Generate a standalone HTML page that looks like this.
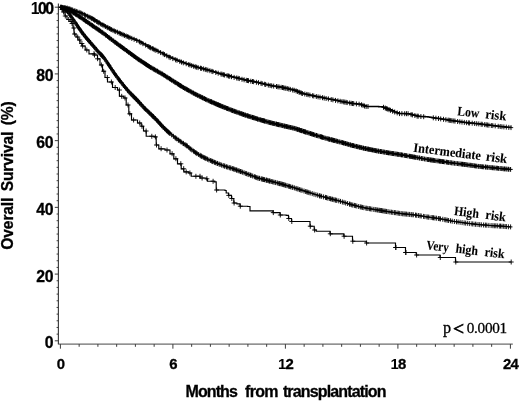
<!DOCTYPE html>
<html><head><meta charset="utf-8"><title>Overall survival</title>
<style>
html,body{margin:0;padding:0;background:#fff;}
body{width:520px;height:402px;overflow:hidden;}
svg{display:block;}
.sans{font-family:"Liberation Sans",Arial,Helvetica,sans-serif;font-weight:bold;fill:#000;stroke:#000;stroke-width:0.3px;}
.serif{font-family:"Liberation Serif","Times New Roman",serif;fill:#000;}
</style></head>
<body>
<svg width="520" height="402" viewBox="0 0 520 402">
<defs><filter id="soft" x="0" y="0" width="520" height="402" filterUnits="userSpaceOnUse"><feGaussianBlur stdDeviation="0.45"/></filter></defs>
<rect width="520" height="402" fill="#fff"/>
<g filter="url(#soft)">
<g fill="none" stroke="#3c3c3c" stroke-width="1.2">
<path d="M58.4 3.6V344.1" stroke-width="1.15"/><path d="M57.9 344.1H512.8" stroke-width="0.95"/>
<path d="M54.8 340.80H58.4M56.6 334.13H58.4M56.6 327.46H58.4M56.6 320.78H58.4M56.6 314.11H58.4M56.6 307.44H58.4M56.6 300.77H58.4M56.6 294.10H58.4M56.6 287.42H58.4M56.6 280.75H58.4M54.8 274.08H58.4M56.6 267.41H58.4M56.6 260.74H58.4M56.6 254.06H58.4M56.6 247.39H58.4M56.6 240.72H58.4M56.6 234.05H58.4M56.6 227.38H58.4M56.6 220.70H58.4M56.6 214.03H58.4M54.8 207.36H58.4M56.6 200.69H58.4M56.6 194.02H58.4M56.6 187.34H58.4M56.6 180.67H58.4M56.6 174.00H58.4M56.6 167.33H58.4M56.6 160.66H58.4M56.6 153.98H58.4M56.6 147.31H58.4M54.8 140.64H58.4M56.6 133.97H58.4M56.6 127.30H58.4M56.6 120.62H58.4M56.6 113.95H58.4M56.6 107.28H58.4M56.6 100.61H58.4M56.6 93.94H58.4M56.6 87.26H58.4M56.6 80.59H58.4M54.8 73.92H58.4M56.6 67.25H58.4M56.6 60.58H58.4M56.6 53.90H58.4M56.6 47.23H58.4M56.6 40.56H58.4M56.6 33.89H58.4M56.6 27.22H58.4M56.6 20.54H58.4M56.6 13.87H58.4M54.8 7.20H58.4M60.40 344.1V348.7M79.15 344.1V346.8M97.90 344.1V346.8M116.65 344.1V346.8M135.40 344.1V346.8M154.15 344.1V346.8M172.90 344.1V348.7M191.65 344.1V346.8M210.40 344.1V346.8M229.15 344.1V346.8M247.90 344.1V346.8M266.65 344.1V346.8M285.40 344.1V348.7M304.15 344.1V346.8M322.90 344.1V346.8M341.65 344.1V346.8M360.40 344.1V346.8M379.15 344.1V346.8M397.90 344.1V348.7M416.65 344.1V346.8M435.40 344.1V346.8M454.15 344.1V346.8M472.90 344.1V346.8M491.65 344.1V346.8M510.40 344.1V348.7" stroke-width="1"/>
</g>
<g fill="none" stroke="#000" stroke-width="1" id="curves">
<path d="M60.4 7.2H62.1V7.4H63.6V7.6H65.8V7.9H67.1V8.1H69.2V8.7H71.0V9.4H72.3V9.9H74.3V10.7H75.5V11.2H77.4V11.8H78.7V12.3H80.1V12.7H82.0V13.6H84.5V14.8H85.9V15.5H87.4V16.3H89.6V17.4H92.4V18.7H94.5V20.1H96.3V21.2H99.1V23.0H100.3V23.8H102.9V25.1H104.6V26.0H106.0V26.7H107.4V27.5H109.1V28.4H111.6V29.7H113.1V30.4H115.2V31.3H117.4V32.3H119.2V33.1H121.3V34.0H122.6V34.6H123.9V35.1H125.4V35.8H127.7V36.7H129.6V37.5H131.3V38.2H133.5V39.1H135.4V39.9H137.1V40.6H139.5V41.8H141.8V43.1H143.4V44.0H145.6V45.1H147.6V46.2H150.2V47.6H152.6V48.7H154.2V49.5H157.0V50.9H158.4V51.5H160.3V52.4H162.7V53.6H164.1V54.4H166.1V55.4H167.4V56.1H169.6V57.3H172.0V58.3H174.2V59.2H176.8V60.2H178.5V60.9H180.8V61.8H182.9V62.6H185.1V63.4H187.0V64.0H189.5V64.9H192.2V65.8H194.2V66.5H196.5V67.1H197.8V67.5H200.1V68.1H202.3V68.7H205.1V69.4H207.6V70.0H209.3V70.5H211.1V71.1H213.4V71.8H214.6V72.1H216.5V72.7H218.0V73.2H219.4V73.6H220.7V73.9H223.1V74.6H224.5V74.9H226.1V75.3H227.9V75.8H230.5V76.5H231.9V76.8H233.8V77.3H235.9V77.8H238.5V78.4H241.0V79.0H243.6V79.7H245.2V80.0H247.1V80.4H248.9V80.8H251.5V81.3H254.2V81.8H255.6V82.1H257.1V82.4H258.7V82.8H260.3V83.2H262.2V83.6H264.4V84.2H266.0V84.5H267.2V84.8H269.1V85.3H270.9V85.6H273.0V86.0H275.7V86.4H278.0V86.8H280.0V87.1H282.2V87.5H284.5V88.0H285.8V88.3H288.4V88.9H290.9V89.5H293.5V90.1H296.0V90.9H297.8V91.6H299.6V92.4H301.0V92.9H303.2V93.7H304.5V93.9H305.8V94.2H307.3V94.6H308.8V94.9H310.6V95.3H311.8V95.6H313.0V95.8H314.5V96.1H315.8V96.4H317.6V96.8H318.9V97.0H321.5V97.5H323.6V98.0H325.1V98.3H326.7V98.6H328.4V98.9H330.2V99.3H331.6V99.6H334.2V100.1H337.0V100.6H338.9V101.0H340.9V101.4H342.2V101.7H343.6V101.9H345.3V102.2H347.0V102.5H349.5V103.0H350.9V103.2H352.2V103.4H354.9V103.8H356.9V104.0H358.4V104.1H360.5V104.5H361.7V104.9H363.7V105.7H366.5V106.5H369.1V106.5H371.4V106.6H373.0V106.6H374.8V106.6H376.3V106.6H378.7V106.7H380.8V106.7H383.2V107.2H384.9V108.0H386.5V108.6H389.0V109.7H391.8V110.8H394.3V111.9H396.8V112.8H399.3V113.6H401.7V113.6H403.3V113.6H405.3V113.7H407.1V113.7H408.3V113.8H409.6V114.1H411.2V114.6H412.8V115.0H415.1V115.6H417.9V116.2H419.8V116.4H422.5V116.6H425.3V116.8H428.0V117.1H429.8V117.3H431.3V117.5H432.9V117.8H434.4V118.0H435.9V118.2H438.1V118.5H440.8V118.9H443.3V119.3H445.3V119.6H447.5V120.0H450.0V120.4H451.3V120.6H453.6V120.9H456.3V121.3H458.7V121.6H461.1V122.0H463.1V122.2H464.6V122.4H467.0V122.7H468.7V122.9H471.2V123.1H474.0V123.4H475.8V123.6H477.7V123.8H480.4V124.1H482.7V124.4H484.2V124.6H485.6V124.8H487.1V124.9H489.7V125.3H492.2V125.6H493.6V125.7H496.1V126.0H498.9V126.4H501.2V126.6H502.9V126.8H505.0V127.0H506.4V127.2H507.6V127.3H510.4V127.5H511.2V127.6" stroke-width="1.5"/>
<path d="M60.9 4.8v5.0M58.7 7.3h4.4M62.2 4.9v5.0M60.0 7.4h4.4M64.1 5.2v5.0M61.9 7.7h4.4M65.3 5.3v5.0M63.1 7.8h4.4M67.1 5.5v5.0M64.9 8.0h4.4M68.8 6.1v5.0M66.6 8.6h4.4M69.7 6.5v5.0M67.5 9.0h4.4M70.7 6.8v5.0M68.5 9.3h4.4M71.8 7.2v5.0M69.6 9.7h4.4M72.7 7.6v5.0M70.5 10.1h4.4M74.1 8.2v5.0M71.9 10.7h4.4M75.1 8.5v5.0M72.9 11.0h4.4M76.3 8.9v5.0M74.1 11.4h4.4M77.1 9.2v5.0M74.9 11.7h4.4M79.0 9.8v5.0M76.8 12.3h4.4M80.1 10.2v5.0M77.9 12.7h4.4M81.3 10.8v5.0M79.1 13.3h4.4M82.7 11.5v5.0M80.5 14.0h4.4M84.6 12.4v5.0M82.4 14.9h4.4M85.7 13.0v5.0M83.5 15.5h4.4M87.6 13.8v5.0M85.4 16.3h4.4M88.9 14.5v5.0M86.7 17.0h4.4M90.2 15.2v5.0M88.0 17.7h4.4M91.6 15.8v5.0M89.4 18.3h4.4M92.2 16.2v5.0M90.0 18.7h4.4M93.5 16.9v5.0M91.3 19.4h4.4M94.4 17.5v5.0M92.2 20.0h4.4M95.0 17.9v5.0M92.8 20.4h4.4M96.7 19.0v5.0M94.5 21.5h4.4M97.6 19.5v5.0M95.4 22.0h4.4M98.8 20.4v5.0M96.6 22.9h4.4M100.4 21.3v5.0M98.2 23.8h4.4M101.8 22.0v5.0M99.6 24.5h4.4M102.9 22.6v5.0M100.7 25.1h4.4M104.2 23.3v5.0M102.0 25.8h4.4M105.6 24.0v5.0M103.4 26.5h4.4M107.2 24.9v5.0M105.0 27.4h4.4M108.0 25.3v5.0M105.8 27.8h4.4M109.4 26.0v5.0M107.2 28.5h4.4M110.4 26.6v5.0M108.2 29.1h4.4M111.4 27.1v5.0M109.2 29.6h4.4M113.0 27.9v5.0M110.8 30.4h4.4M114.4 28.5v5.0M112.2 31.0h4.4M115.7 29.1v5.0M113.5 31.6h4.4M117.4 29.7v5.0M115.2 32.2h4.4M119.2 30.6v5.0M117.0 33.1h4.4M120.4 31.1v5.0M118.2 33.6h4.4M121.9 31.7v5.0M119.7 34.2h4.4M123.2 32.3v5.0M121.0 34.8h4.4M124.5 32.9v5.0M122.3 35.4h4.4M126.1 33.5v5.0M123.9 36.0h4.4M127.3 34.0v5.0M125.1 36.5h4.4M128.6 34.6v5.0M126.4 37.1h4.4M129.9 35.1v5.0M127.7 37.6h4.4M131.8 35.9v5.0M129.6 38.4h4.4M134.1 36.8v5.0M131.9 39.3h4.4M136.7 37.9v5.0M134.5 40.4h4.4M139.4 39.3v5.0M137.2 41.8h4.4M140.9 40.1v5.0M138.7 42.6h4.4M142.9 41.2v5.0M140.7 43.7h4.4M145.6 42.6v5.0M143.4 45.1h4.4M148.2 44.0v5.0M146.0 46.5h4.4M149.4 44.7v5.0M147.2 47.2h4.4M150.6 45.3v5.0M148.4 47.8h4.4M152.3 46.1v5.0M150.1 48.6h4.4M153.4 46.6v5.0M151.2 49.1h4.4M154.8 47.3v5.0M152.6 49.8h4.4M155.9 47.8v5.0M153.7 50.3h4.4M158.1 48.9v5.0M155.9 51.4h4.4M160.6 50.1v5.0M158.4 52.6h4.4M163.2 51.4v5.0M161.0 53.9h4.4M164.5 52.1v5.0M162.3 54.6h4.4M166.8 53.3v5.0M164.6 55.8h4.4M169.0 54.5v5.0M166.8 57.0h4.4M170.2 55.1v5.0M168.0 57.6h4.4M172.8 56.1v5.0M170.6 58.6h4.4M175.6 57.3v5.0M173.4 59.8h4.4M177.0 57.8v5.0M174.8 60.3h4.4M179.8 58.9v5.0M177.6 61.4h4.4M181.5 59.6v5.0M179.3 62.1h4.4M183.3 60.3v5.0M181.1 62.8h4.4M186.2 61.2v5.0M184.0 63.7h4.4M188.7 62.1v5.0M186.5 64.6h4.4M190.0 62.5v5.0M187.8 65.0h4.4M191.7 63.1v5.0M189.5 65.6h4.4M193.7 63.8v5.0M191.5 66.3h4.4M195.3 64.3v5.0M193.1 66.8h4.4M196.6 64.7v5.0M194.4 67.2h4.4M198.1 65.1v5.0M195.9 67.6h4.4M200.5 65.7v5.0M198.3 68.2h4.4M201.4 65.9v5.0M199.2 68.4h4.4M203.4 66.4v5.0M201.2 68.9h4.4M205.2 66.9v5.0M203.0 69.4h4.4M206.2 67.2v5.0M204.0 69.7h4.4M207.8 67.6v5.0M205.6 70.1h4.4M209.9 68.2v5.0M207.7 70.7h4.4M211.9 68.8v5.0M209.7 71.3h4.4M212.9 69.1v5.0M210.7 71.6h4.4M215.8 70.0v5.0M213.6 72.5h4.4M218.2 70.7v5.0M216.0 73.2h4.4M221.0 71.5v5.0M218.8 74.0h4.4M222.1 71.8v5.0M219.9 74.3h4.4M223.6 72.2v5.0M221.4 74.7h4.4M224.6 72.5v5.0M222.4 75.0h4.4M227.1 73.1v5.0M224.9 75.6h4.4M228.5 73.5v5.0M226.3 76.0h4.4M229.7 73.8v5.0M227.5 76.3h4.4M231.5 74.2v5.0M229.3 76.7h4.4M234.1 74.9v5.0M231.9 77.4h4.4M236.7 75.5v5.0M234.5 78.0h4.4M238.1 75.8v5.0M235.9 78.3h4.4M239.3 76.1v5.0M237.1 78.6h4.4M242.0 76.8v5.0M239.8 79.3h4.4M244.1 77.3v5.0M241.9 79.8h4.4M246.3 77.8v5.0M244.1 80.3h4.4M247.5 78.0v5.0M245.3 80.5h4.4M248.5 78.2v5.0M246.3 80.7h4.4M250.8 78.7v5.0M248.6 81.2h4.4M252.5 79.0v5.0M250.3 81.5h4.4M253.6 79.2v5.0M251.4 81.7h4.4M256.4 79.8v5.0M254.2 82.3h4.4M258.5 80.2v5.0M256.3 82.7h4.4M261.0 80.8v5.0M258.8 83.3h4.4M262.1 81.1v5.0M259.9 83.6h4.4M264.7 81.7v5.0M262.5 84.2h4.4M265.7 82.0v5.0M263.5 84.5h4.4M268.3 82.6v5.0M266.1 85.1h4.4M270.1 83.0v5.0M267.9 85.5h4.4M271.7 83.3v5.0M269.5 85.8h4.4M273.7 83.6v5.0M271.5 86.1h4.4M276.5 84.0v5.0M274.3 86.5h4.4M277.9 84.3v5.0M275.7 86.8h4.4M279.1 84.5v5.0M276.9 87.0h4.4M281.1 84.8v5.0M278.9 87.3h4.4M282.5 85.0v5.0M280.3 87.5h4.4M283.6 85.3v5.0M281.4 87.8h4.4M284.9 85.6v5.0M282.7 88.1h4.4M285.9 85.8v5.0M283.7 88.3h4.4M287.3 86.1v5.0M285.1 88.6h4.4M288.8 86.5v5.0M286.6 89.0h4.4M290.3 86.9v5.0M288.1 89.4h4.4M292.7 87.5v5.0M290.5 90.0h4.4M294.2 87.8v5.0M292.0 90.3h4.4M296.1 88.4v5.0M293.9 90.9h4.4M297.4 89.0v5.0M295.2 91.5h4.4M299.0 89.6v5.0M296.8 92.1h4.4M300.0 90.0v5.0M297.8 92.5h4.4M301.4 90.6v5.0M299.2 93.1h4.4M302.4 91.0v5.0M300.2 93.5h4.4M304.8 91.5v5.0M302.6 94.0h4.4M306.8 91.9v5.0M304.6 94.4h4.4M308.1 92.2v5.0M305.9 94.7h4.4M309.9 92.6v5.0M307.7 95.1h4.4M312.6 93.2v5.0M310.4 95.7h4.4M313.8 93.5v5.0M311.6 96.0h4.4M316.3 94.0v5.0M314.1 96.5h4.4M318.1 94.4v5.0M315.9 96.9h4.4M320.0 94.7v5.0M317.8 97.2h4.4M322.5 95.2v5.0M320.3 97.7h4.4M324.2 95.6v5.0M322.0 98.1h4.4M326.1 96.0v5.0M323.9 98.5h4.4M328.4 96.4v5.0M326.2 98.9h4.4M331.2 97.0v5.0M329.0 99.5h4.4M332.9 97.3v5.0M330.7 99.8h4.4M335.5 97.9v5.0M333.3 100.4h4.4M337.9 98.3v5.0M335.7 100.8h4.4M340.2 98.8v5.0M338.0 101.3h4.4M342.0 99.1v5.0M339.8 101.6h4.4M343.7 99.4v5.0M341.5 101.9h4.4M344.8 99.6v5.0M342.6 102.1h4.4M346.1 99.8v5.0M343.9 102.3h4.4M347.2 100.1v5.0M345.0 102.6h4.4M349.7 100.5v5.0M347.5 103.0h4.4M351.2 100.8v5.0M349.0 103.3h4.4M352.5 101.0v5.0M350.3 103.5h4.4M353.7 101.1v5.0M351.5 103.6h4.4M356.4 101.4v5.0M354.2 103.9h4.4M359.1 101.7v5.0M356.9 104.2h4.4M361.5 102.3v5.0M359.3 104.8h4.4M363.0 102.9v5.0M360.8 105.4h4.4M364.5 103.5v5.0M362.3 106.0h4.4M366.1 104.0v5.0M363.9 106.5h4.4M368.0 104.0v5.0M365.8 106.5h4.4M383.5 104.8v5.0M381.3 107.3h4.4M385.3 105.6v5.0M383.1 108.1h4.4M386.4 106.1v5.0M384.2 108.6h4.4M387.4 106.5v5.0M385.2 109.0h4.4M389.0 107.2v5.0M386.8 109.7h4.4M390.5 107.8v5.0M388.3 110.3h4.4M392.6 108.7v5.0M390.4 111.2h4.4M394.7 109.5v5.0M392.5 112.0h4.4M397.2 110.4v5.0M395.0 112.9h4.4M399.5 111.1v5.0M397.3 113.6h4.4M401.9 111.1v5.0M399.7 113.6h4.4M404.7 111.2v5.0M402.5 113.7h4.4M406.5 111.2v5.0M404.3 113.7h4.4M408.1 111.2v5.0M405.9 113.7h4.4M411.1 112.1v5.0M408.9 114.6h4.4M412.4 112.4v5.0M410.2 114.9h4.4M414.9 113.0v5.0M412.7 115.5h4.4M417.1 113.6v5.0M414.9 116.1h4.4M418.2 113.7v5.0M416.0 116.2h4.4M420.9 114.0v5.0M418.7 116.5h4.4M423.7 114.2v5.0M421.5 116.7h4.4M433.3 115.3v5.0M431.1 117.8h4.4M435.9 115.7v5.0M433.7 118.2h4.4M438.5 116.0v5.0M436.3 118.5h4.4M440.7 116.4v5.0M438.5 118.9h4.4M443.5 116.8v5.0M441.3 119.3h4.4M445.9 117.2v5.0M443.7 119.7h4.4M448.2 117.6v5.0M446.0 120.1h4.4M449.7 117.8v5.0M447.5 120.3h4.4M450.8 118.0v5.0M448.6 120.5h4.4M452.0 118.2v5.0M449.8 120.7h4.4M453.8 118.4v5.0M451.6 120.9h4.4M455.0 118.6v5.0M452.8 121.1h4.4M457.6 119.0v5.0M455.4 121.5h4.4M459.8 119.3v5.0M457.6 121.8h4.4M462.0 119.6v5.0M459.8 122.1h4.4M464.3 119.9v5.0M462.1 122.4h4.4M466.6 120.2v5.0M464.4 122.7h4.4M468.6 120.4v5.0M466.4 122.9h4.4M469.6 120.5v5.0M467.4 123.0h4.4M472.2 120.7v5.0M470.0 123.2h4.4M474.7 121.0v5.0M472.5 123.5h4.4M476.7 121.2v5.0M474.5 123.7h4.4M478.8 121.4v5.0M476.6 123.9h4.4M481.1 121.7v5.0M478.9 124.2h4.4M482.2 121.8v5.0M480.0 124.3h4.4M484.7 122.1v5.0M482.5 124.6h4.4M486.2 122.3v5.0M484.0 124.8h4.4M487.4 122.5v5.0M485.2 125.0h4.4M488.9 122.7v5.0M486.7 125.2h4.4M491.3 123.0v5.0M489.1 125.5h4.4M492.8 123.1v5.0M490.6 125.6h4.4M495.2 123.4v5.0M493.0 125.9h4.4M498.2 123.8v5.0M496.0 126.3h4.4M500.2 124.0v5.0M498.0 126.5h4.4M501.9 124.2v5.0M499.7 126.7h4.4M503.9 124.4v5.0M501.7 126.9h4.4M506.3 124.6v5.0M504.1 127.1h4.4M508.8 124.9v5.0M506.6 127.4h4.4M511.0 125.1v5.0M508.8 127.6h4.4" stroke-width="0.9"/>
<path d="M60.4 7.2H61.2V7.4H62.1V7.6H63.0V7.8H64.5V8.2H65.5V8.4H66.7V8.7H67.5V8.9H68.2V9.4H69.2V10.0H70.6V10.9H72.0V11.8H73.3V12.7H74.3V13.4H75.6V14.2H76.7V14.9H77.9V15.6H78.7V16.2H80.3V17.2H81.2V17.8H82.9V19.0H84.5V20.1H85.2V20.6H86.4V21.4H87.9V22.5H89.5V23.6H90.7V24.4H91.7V25.1H92.6V25.8H94.2V26.9H95.1V27.5H96.4V28.4H97.3V28.9H98.5V29.8H100.1V30.9H101.0V31.5H102.5V32.6H103.7V33.5H105.3V34.7H106.7V35.8H107.6V36.5H109.2V37.7H110.4V38.6H111.1V39.1H111.8V39.7H113.0V40.6H114.2V41.5H115.2V42.2H116.1V42.9H117.1V43.7H118.1V44.5H119.7V45.6H120.4V46.1H121.8V47.2H123.3V48.3H124.2V48.9H125.8V50.1H127.2V51.1H128.8V52.3H129.8V53.0H130.8V53.8H131.9V54.6H133.6V55.8H134.9V56.8H136.0V57.6H137.1V58.4H138.1V59.1H138.9V59.6H139.7V60.1H141.2V61.2H142.2V61.8H143.8V62.9H144.8V63.5H145.7V64.2H147.0V65.0H147.9V65.6H148.9V66.3H150.6V67.3H152.1V68.2H153.6V69.1H155.0V69.9H156.6V70.8H158.2V71.7H159.4V72.4H160.8V73.2H161.6V73.7H163.0V74.5H164.2V75.3H165.6V76.2H167.0V77.1H168.0V77.7H168.7V78.2H170.3V79.2H171.2V79.8H172.4V80.5H173.4V81.2H174.4V81.8H175.8V82.7H177.5V83.8H178.5V84.4H179.8V85.3H180.8V85.9H182.1V86.7H183.2V87.4H184.1V87.9H184.9V88.4H185.9V88.9H187.4V89.8H188.6V90.4H189.6V91.0H191.2V91.9H192.8V92.8H194.0V93.4H194.8V93.9H195.8V94.4H196.6V94.8H197.6V95.3H198.4V95.7H199.4V96.2H200.3V96.6H201.6V97.3H203.2V98.1H204.6V98.8H205.7V99.3H206.8V99.9H208.1V100.4H209.1V100.9H210.2V101.4H211.0V101.7H212.0V102.1H213.6V102.8H214.4V103.2H215.7V103.7H217.0V104.3H218.5V105.0H219.5V105.4H220.4V105.8H221.4V106.2H222.5V106.6H223.6V107.1H225.3V107.7H226.8V108.3H228.4V108.9H229.1V109.2H229.9V109.5H231.3V110.1H232.8V110.7H234.0V111.1H235.3V111.6H236.0V111.8H237.1V112.2H238.7V112.8H240.2V113.3H241.8V113.9H243.4V114.4H244.4V114.8H245.2V115.1H246.1V115.3H247.3V115.7H248.7V116.2H250.3V116.7H251.7V117.2H253.1V117.6H254.5V118.0H255.7V118.4H256.9V118.8H257.7V119.1H259.2V119.5H260.1V119.7H261.7V120.2H263.0V120.6H264.1V120.9H264.9V121.1H265.9V121.4H267.2V121.8H268.6V122.2H269.4V122.4H270.2V122.6H271.4V122.9H272.7V123.2H273.8V123.5H274.7V123.7H276.0V124.0H276.7V124.2H277.8V124.5H278.9V124.7H280.6V125.1H281.9V125.5H283.5V125.8H284.6V126.1H285.6V126.3H286.5V126.5H288.2V126.9H289.6V127.2H290.6V127.5H291.3V127.7H292.5V127.9H293.9V128.2H295.0V128.5H296.0V128.8H297.4V129.3H299.0V129.8H299.9V130.1H300.7V130.4H301.7V130.7H302.8V131.1H304.2V131.5H305.1V131.8H306.6V132.3H308.0V132.8H309.2V133.2H310.1V133.4H311.8V134.0H312.8V134.3H314.3V134.8H315.3V135.1H316.2V135.4H317.7V135.8H318.7V136.1H320.3V136.6H321.5V136.9H322.4V137.2H323.3V137.5H324.4V137.8H325.8V138.2H327.4V138.7H328.3V139.0H329.4V139.2H330.3V139.5H332.0V139.9H332.8V140.1H333.6V140.3H334.4V140.5H335.5V140.8H337.0V141.2H338.6V141.6H340.0V142.0H341.7V142.5H343.3V142.9H344.4V143.2H345.3V143.5H346.9V143.9H348.3V144.3H349.1V144.5H350.4V144.9H351.5V145.2H352.6V145.5H353.6V145.8H354.5V146.0H355.2V146.2H356.2V146.4H357.3V146.6H358.9V147.0H359.8V147.2H361.4V147.6H362.3V147.9H363.4V148.1H364.9V148.5H366.4V148.8H367.5V149.0H368.3V149.2H369.5V149.4H370.6V149.6H372.2V149.9H373.1V150.1H374.1V150.3H375.7V150.6H376.5V150.8H377.6V151.0H379.1V151.3H380.5V151.5H381.3V151.6H382.0V151.8H382.8V151.9H384.4V152.2H385.4V152.3H386.8V152.6H388.4V152.8H389.5V153.0H390.4V153.2H392.1V153.4H393.4V153.6H394.4V153.8H395.8V154.0H396.8V154.1H397.8V154.3H398.5V154.4H400.0V154.6H401.6V154.9H402.9V155.1H404.5V155.4H405.3V155.5H406.2V155.7H407.4V155.9H409.0V156.1H410.6V156.4H411.7V156.6H412.7V156.8H413.8V157.0H415.0V157.2H416.6V157.5H417.5V157.7H419.0V157.9H420.5V158.2H422.0V158.5H423.4V158.7H424.7V159.0H425.8V159.2H426.8V159.4H427.9V159.5H429.3V159.8H430.1V159.9H431.0V160.0H432.5V160.2H433.4V160.3H434.2V160.4H435.0V160.5H436.2V160.7H437.2V160.9H438.9V161.1H440.5V161.3H442.1V161.6H443.1V161.7H443.9V161.8H444.7V161.9H445.9V162.1H447.3V162.3H448.5V162.4H449.4V162.6H450.5V162.7H451.9V162.9H453.2V163.1H454.7V163.3H456.2V163.4H457.6V163.6H458.4V163.7H459.9V163.9H460.9V164.0H462.2V164.2H463.3V164.3H464.7V164.5H465.6V164.6H466.6V164.7H467.5V164.9H468.4V165.0H470.0V165.2H471.2V165.4H472.3V165.5H473.4V165.7H475.0V165.9H476.2V166.1H477.2V166.2H478.7V166.4H480.0V166.5H481.7V166.7H482.5V166.8H483.7V166.9H485.2V167.0H486.7V167.2H488.3V167.3H489.1V167.4H490.1V167.5H490.9V167.6H491.8V167.7H493.5V167.8H494.8V168.0H496.4V168.1H497.4V168.2H499.0V168.4H500.1V168.5H501.1V168.6H502.6V168.8H504.2V168.9H505.0V169.0H506.3V169.1H507.6V169.2H508.6V169.3H509.6V169.4H510.5V169.4H511.2V169.5"/>
<path d="M60.9 4.9v4.8M58.8 7.3h4.2M61.5 5.1v4.8M59.4 7.5h4.2M62.4 5.3v4.8M60.3 7.7h4.2M63.3 5.5v4.8M61.2 7.9h4.2M63.9 5.6v4.8M61.8 8.0h4.2M64.3 5.7v4.8M62.2 8.1h4.2M64.9 5.9v4.8M62.8 8.3h4.2M65.9 6.1v4.8M63.8 8.5h4.2M66.4 6.2v4.8M64.3 8.6h4.2M67.1 6.4v4.8M65.0 8.8h4.2M67.6 6.6v4.8M65.5 9.0h4.2M68.7 7.3v4.8M66.6 9.7h4.2M69.5 7.8v4.8M67.4 10.2h4.2M70.0 8.1v4.8M67.9 10.5h4.2M70.4 8.4v4.8M68.3 10.8h4.2M71.2 8.9v4.8M69.1 11.3h4.2M72.0 9.4v4.8M69.9 11.8h4.2M72.9 10.0v4.8M70.8 12.4h4.2M73.4 10.3v4.8M71.3 12.7h4.2M73.9 10.7v4.8M71.8 13.1h4.2M74.9 11.3v4.8M72.8 13.7h4.2M75.6 11.8v4.8M73.5 14.2h4.2M76.2 12.2v4.8M74.1 14.6h4.2M76.9 12.6v4.8M74.8 15.0h4.2M78.0 13.3v4.8M75.9 15.7h4.2M78.7 13.8v4.8M76.6 16.2h4.2M79.5 14.3v4.8M77.4 16.7h4.2M80.2 14.8v4.8M78.1 17.2h4.2M81.0 15.3v4.8M78.9 17.7h4.2M82.1 16.0v4.8M80.0 18.4h4.2M83.2 16.9v4.8M81.1 19.3h4.2M83.9 17.3v4.8M81.8 19.7h4.2M84.5 17.7v4.8M82.4 20.1h4.2M85.5 18.4v4.8M83.4 20.8h4.2M86.0 18.8v4.8M83.9 21.2h4.2M86.4 19.1v4.8M84.3 21.5h4.2M87.6 19.8v4.8M85.5 22.2h4.2M88.3 20.4v4.8M86.2 22.8h4.2M89.4 21.1v4.8M87.3 23.5h4.2M90.1 21.6v4.8M88.0 24.0h4.2M91.2 22.4v4.8M89.1 24.8h4.2M92.0 22.9v4.8M89.9 25.3h4.2M92.5 23.3v4.8M90.4 25.7h4.2M92.9 23.6v4.8M90.8 26.0h4.2M93.7 24.1v4.8M91.6 26.5h4.2M94.7 24.8v4.8M92.6 27.2h4.2M95.8 25.5v4.8M93.7 27.9h4.2M96.3 25.9v4.8M94.2 28.3h4.2M97.2 26.5v4.8M95.1 28.9h4.2M97.9 26.9v4.8M95.8 29.3h4.2M98.7 27.5v4.8M96.6 29.9h4.2M99.2 27.8v4.8M97.1 30.2h4.2M99.8 28.3v4.8M97.7 30.7h4.2M100.6 28.9v4.8M98.5 31.3h4.2M101.8 29.7v4.8M99.7 32.1h4.2M102.2 30.1v4.8M100.1 32.5h4.2M103.0 30.6v4.8M100.9 33.0h4.2M104.1 31.4v4.8M102.0 33.8h4.2M105.3 32.3v4.8M103.2 34.7h4.2M105.8 32.7v4.8M103.7 35.1h4.2M106.3 33.1v4.8M104.2 35.5h4.2M107.5 34.0v4.8M105.4 36.4h4.2M108.6 34.9v4.8M106.5 37.3h4.2M109.4 35.5v4.8M107.3 37.9h4.2M109.9 35.8v4.8M107.8 38.2h4.2M111.0 36.7v4.8M108.9 39.1h4.2M111.7 37.2v4.8M109.6 39.6h4.2M112.9 38.1v4.8M110.8 40.5h4.2M113.7 38.7v4.8M111.6 41.1h4.2M114.8 39.6v4.8M112.7 42.0h4.2M115.3 40.0v4.8M113.2 42.4h4.2M116.4 40.7v4.8M114.3 43.1h4.2M116.9 41.2v4.8M114.8 43.6h4.2M117.7 41.7v4.8M115.6 44.1h4.2M118.7 42.5v4.8M116.6 44.9h4.2M119.8 43.3v4.8M117.7 45.7h4.2M120.4 43.7v4.8M118.3 46.1h4.2M120.9 44.1v4.8M118.8 46.5h4.2M121.6 44.6v4.8M119.5 47.0h4.2M122.5 45.2v4.8M120.4 47.6h4.2M123.2 45.8v4.8M121.1 48.2h4.2M123.7 46.1v4.8M121.6 48.5h4.2M124.3 46.6v4.8M122.2 49.0h4.2M125.2 47.3v4.8M123.1 49.7h4.2M126.4 48.1v4.8M124.3 50.5h4.2M126.8 48.4v4.8M124.7 50.8h4.2M127.6 49.0v4.8M125.5 51.4h4.2M128.7 49.8v4.8M126.6 52.2h4.2M129.1 50.1v4.8M127.0 52.5h4.2M130.2 50.9v4.8M128.1 53.3h4.2M130.6 51.3v4.8M128.5 53.7h4.2M131.5 51.9v4.8M129.4 54.3h4.2M132.4 52.5v4.8M130.3 54.9h4.2M133.3 53.2v4.8M131.2 55.6h4.2M133.9 53.7v4.8M131.8 56.1h4.2M134.6 54.2v4.8M132.5 56.6h4.2M135.5 54.8v4.8M133.4 57.2h4.2M136.3 55.4v4.8M134.2 57.8h4.2M137.2 56.1v4.8M135.1 58.5h4.2M137.9 56.6v4.8M135.8 59.0h4.2M138.7 57.1v4.8M136.6 59.5h4.2M139.1 57.4v4.8M137.0 59.8h4.2M140.0 58.0v4.8M137.9 60.4h4.2M140.8 58.5v4.8M138.7 60.9h4.2M141.4 58.9v4.8M139.3 61.3h4.2M142.4 59.6v4.8M140.3 62.0h4.2M143.4 60.2v4.8M141.3 62.6h4.2M144.2 60.7v4.8M142.1 63.1h4.2M144.7 61.1v4.8M142.6 63.5h4.2M145.5 61.6v4.8M143.4 64.0h4.2M146.0 61.9v4.8M143.9 64.3h4.2M146.5 62.3v4.8M144.4 64.7h4.2M147.2 62.8v4.8M145.1 65.2h4.2M147.7 63.1v4.8M145.6 65.5h4.2M148.5 63.6v4.8M146.4 66.0h4.2M149.3 64.1v4.8M147.2 66.5h4.2M149.7 64.4v4.8M147.6 66.8h4.2M150.6 65.0v4.8M148.5 67.4h4.2M151.1 65.2v4.8M149.0 67.6h4.2M152.1 65.8v4.8M150.0 68.2h4.2M153.1 66.4v4.8M151.0 68.8h4.2M153.9 66.8v4.8M151.8 69.2h4.2M154.3 67.1v4.8M152.2 69.5h4.2M155.1 67.6v4.8M153.0 70.0h4.2M155.9 68.0v4.8M153.8 70.4h4.2M157.0 68.6v4.8M154.9 71.0h4.2M157.5 68.9v4.8M155.4 71.3h4.2M158.6 69.6v4.8M156.5 72.0h4.2M159.8 70.2v4.8M157.7 72.6h4.2M160.8 70.8v4.8M158.7 73.2h4.2M161.8 71.4v4.8M159.7 73.8h4.2M162.4 71.7v4.8M160.3 74.1h4.2M163.6 72.5v4.8M161.5 74.9h4.2M164.4 73.0v4.8M162.3 75.4h4.2M165.5 73.7v4.8M163.4 76.1h4.2M166.7 74.5v4.8M164.6 76.9h4.2M167.2 74.8v4.8M165.1 77.2h4.2M168.2 75.5v4.8M166.1 77.9h4.2M169.4 76.2v4.8M167.3 78.6h4.2M169.8 76.5v4.8M167.7 78.9h4.2M170.5 76.9v4.8M168.4 79.3h4.2M171.5 77.6v4.8M169.4 80.0h4.2M172.0 77.9v4.8M169.9 80.3h4.2M173.2 78.6v4.8M171.1 81.0h4.2M173.8 79.0v4.8M171.7 81.4h4.2M174.8 79.7v4.8M172.7 82.1h4.2M175.3 80.0v4.8M173.2 82.4h4.2M176.2 80.5v4.8M174.1 82.9h4.2M177.3 81.3v4.8M175.2 83.7h4.2M177.9 81.6v4.8M175.8 84.0h4.2M178.5 82.0v4.8M176.4 84.4h4.2M179.3 82.5v4.8M177.2 84.9h4.2M179.9 83.0v4.8M177.8 85.4h4.2M180.4 83.2v4.8M178.3 85.6h4.2M180.9 83.6v4.8M178.8 86.0h4.2M181.4 83.9v4.8M179.3 86.3h4.2M182.6 84.6v4.8M180.5 87.0h4.2M183.5 85.2v4.8M181.4 87.6h4.2M184.6 85.8v4.8M182.5 88.2h4.2M185.2 86.1v4.8M183.1 88.5h4.2M186.2 86.7v4.8M184.1 89.1h4.2M186.7 86.9v4.8M184.6 89.3h4.2M187.5 87.4v4.8M185.4 89.8h4.2M188.4 87.9v4.8M186.3 90.3h4.2M189.1 88.3v4.8M187.0 90.7h4.2M190.2 88.9v4.8M188.1 91.3h4.2M191.1 89.4v4.8M189.0 91.8h4.2M191.9 89.9v4.8M189.8 92.3h4.2M193.0 90.5v4.8M190.9 92.9h4.2M193.5 90.8v4.8M191.4 93.2h4.2M194.7 91.4v4.8M192.6 93.8h4.2M195.6 91.9v4.8M193.5 94.3h4.2M196.3 92.3v4.8M194.2 94.7h4.2M197.4 92.8v4.8M195.3 95.2h4.2M198.0 93.1v4.8M195.9 95.5h4.2M199.2 93.7v4.8M197.1 96.1h4.2M200.0 94.1v4.8M197.9 96.5h4.2M200.7 94.4v4.8M198.6 96.8h4.2M201.7 94.9v4.8M199.6 97.3h4.2M202.5 95.3v4.8M200.4 97.7h4.2M203.0 95.6v4.8M200.9 98.0h4.2M204.0 96.1v4.8M201.9 98.5h4.2M204.5 96.3v4.8M202.4 98.7h4.2M205.5 96.8v4.8M203.4 99.2h4.2M206.1 97.1v4.8M204.0 99.5h4.2M207.0 97.6v4.8M204.9 100.0h4.2M208.2 98.1v4.8M206.1 100.5h4.2M209.1 98.5v4.8M207.0 100.9h4.2M210.0 98.9v4.8M207.9 101.3h4.2M210.7 99.2v4.8M208.6 101.6h4.2M211.1 99.3v4.8M209.0 101.7h4.2M211.5 99.5v4.8M209.4 101.9h4.2M212.0 99.7v4.8M209.9 102.1h4.2M212.9 100.1v4.8M210.8 102.5h4.2M213.7 100.5v4.8M211.6 102.9h4.2M214.5 100.8v4.8M212.4 103.2h4.2M215.6 101.3v4.8M213.5 103.7h4.2M216.1 101.5v4.8M214.0 103.9h4.2M216.7 101.8v4.8M214.6 104.2h4.2M217.6 102.2v4.8M215.5 104.6h4.2M218.0 102.3v4.8M215.9 104.7h4.2M218.4 102.5v4.8M216.3 104.9h4.2M219.1 102.8v4.8M217.0 105.2h4.2M219.6 103.0v4.8M217.5 105.4h4.2M220.3 103.3v4.8M218.2 105.7h4.2M220.8 103.5v4.8M218.7 105.9h4.2M221.7 103.9v4.8M219.6 106.3h4.2M222.6 104.2v4.8M220.5 106.6h4.2M223.1 104.5v4.8M221.0 106.9h4.2M224.0 104.8v4.8M221.9 107.2h4.2M224.8 105.1v4.8M222.7 107.5h4.2M225.3 105.3v4.8M223.2 107.7h4.2M226.5 105.8v4.8M224.4 108.2h4.2M227.1 106.0v4.8M225.0 108.4h4.2M227.6 106.2v4.8M225.5 108.6h4.2M228.1 106.4v4.8M226.0 108.8h4.2M229.0 106.8v4.8M226.9 109.2h4.2M230.1 107.2v4.8M228.0 109.6h4.2M231.1 107.6v4.8M229.0 110.0h4.2M231.8 107.9v4.8M229.7 110.3h4.2M232.4 108.2v4.8M230.3 110.6h4.2M232.8 108.3v4.8M230.7 110.7h4.2M233.8 108.6v4.8M231.7 111.0h4.2M234.6 108.9v4.8M232.5 111.3h4.2M235.3 109.2v4.8M233.2 111.6h4.2M236.2 109.5v4.8M234.1 111.9h4.2M237.0 109.8v4.8M234.9 112.2h4.2M238.1 110.2v4.8M236.0 112.6h4.2M239.1 110.5v4.8M237.0 112.9h4.2M239.7 110.7v4.8M237.6 113.1h4.2M240.8 111.1v4.8M238.7 113.5h4.2M241.3 111.3v4.8M239.2 113.7h4.2M242.1 111.6v4.8M240.0 114.0h4.2M242.8 111.8v4.8M240.7 114.2h4.2M243.4 112.0v4.8M241.3 114.4h4.2M243.8 112.2v4.8M241.7 114.6h4.2M244.9 112.6v4.8M242.8 115.0h4.2M245.3 112.7v4.8M243.2 115.1h4.2M246.1 113.0v4.8M244.0 115.4h4.2M247.3 113.3v4.8M245.2 115.7h4.2M247.8 113.5v4.8M245.7 115.9h4.2M248.3 113.7v4.8M246.2 116.1h4.2M249.2 114.0v4.8M247.1 116.4h4.2M250.0 114.2v4.8M247.9 116.6h4.2M250.9 114.5v4.8M248.8 116.9h4.2M252.0 114.8v4.8M249.9 117.2h4.2M252.5 115.0v4.8M250.4 117.4h4.2M253.2 115.2v4.8M251.1 117.6h4.2M253.8 115.4v4.8M251.7 117.8h4.2M254.3 115.6v4.8M252.2 118.0h4.2M255.4 115.9v4.8M253.3 118.3h4.2M256.4 116.2v4.8M254.3 118.6h4.2M257.4 116.6v4.8M255.3 119.0h4.2M257.8 116.7v4.8M255.7 119.1h4.2M258.9 117.0v4.8M256.8 119.4h4.2M259.9 117.3v4.8M257.8 119.7h4.2M260.6 117.5v4.8M258.5 119.9h4.2M261.6 117.8v4.8M259.5 120.2h4.2M262.4 118.0v4.8M260.3 120.4h4.2M263.0 118.2v4.8M260.9 120.6h4.2M263.4 118.3v4.8M261.3 120.7h4.2M264.0 118.5v4.8M261.9 120.9h4.2M264.5 118.6v4.8M262.4 121.0h4.2M265.1 118.8v4.8M263.0 121.2h4.2M266.1 119.1v4.8M264.0 121.5h4.2M267.1 119.4v4.8M265.0 121.8h4.2M268.2 119.7v4.8M266.1 122.1h4.2M269.1 119.9v4.8M267.0 122.3h4.2M269.7 120.1v4.8M267.6 122.5h4.2M270.6 120.3v4.8M268.5 122.7h4.2M271.3 120.5v4.8M269.2 122.9h4.2M272.4 120.8v4.8M270.3 123.2h4.2M273.2 121.0v4.8M271.1 123.4h4.2M273.8 121.1v4.8M271.7 123.5h4.2M274.7 121.3v4.8M272.6 123.7h4.2M275.9 121.6v4.8M273.8 124.0h4.2M276.5 121.7v4.8M274.4 124.1h4.2M277.6 122.0v4.8M275.5 124.4h4.2M278.0 122.1v4.8M275.9 124.5h4.2M278.6 122.3v4.8M276.5 124.7h4.2M279.2 122.4v4.8M277.1 124.8h4.2M280.2 122.6v4.8M278.1 125.0h4.2M281.3 122.9v4.8M279.2 125.3h4.2M282.3 123.2v4.8M280.2 125.6h4.2M283.0 123.3v4.8M280.9 125.7h4.2M284.1 123.6v4.8M282.0 126.0h4.2M284.7 123.7v4.8M282.6 126.1h4.2M285.3 123.9v4.8M283.2 126.3h4.2M286.5 124.1v4.8M284.4 126.5h4.2M287.4 124.3v4.8M285.3 126.7h4.2M288.3 124.6v4.8M286.2 127.0h4.2M289.3 124.8v4.8M287.2 127.2h4.2M290.4 125.0v4.8M288.3 127.4h4.2M291.2 125.2v4.8M289.1 127.6h4.2M292.3 125.5v4.8M290.2 127.9h4.2M293.2 125.7v4.8M291.1 128.1h4.2M294.3 125.9v4.8M292.2 128.3h4.2M295.1 126.1v4.8M293.0 128.5h4.2M296.1 126.5v4.8M294.0 128.9h4.2M296.9 126.7v4.8M294.8 129.1h4.2M297.6 127.0v4.8M295.5 129.4h4.2M298.1 127.1v4.8M296.0 129.5h4.2M299.0 127.4v4.8M296.9 129.8h4.2M299.5 127.6v4.8M297.4 130.0h4.2M300.6 128.0v4.8M298.5 130.4h4.2M301.2 128.2v4.8M299.1 130.6h4.2M301.7 128.3v4.8M299.6 130.7h4.2M302.2 128.5v4.8M300.1 130.9h4.2M303.5 128.9v4.8M301.4 131.3h4.2M304.3 129.2v4.8M302.2 131.6h4.2M304.8 129.4v4.8M302.7 131.8h4.2M305.3 129.5v4.8M303.2 131.9h4.2M305.8 129.7v4.8M303.7 132.1h4.2M306.9 130.0v4.8M304.8 132.4h4.2M307.9 130.3v4.8M305.8 132.7h4.2M309.0 130.7v4.8M306.9 133.1h4.2M310.1 131.0v4.8M308.0 133.4h4.2M310.6 131.2v4.8M308.5 133.6h4.2M311.6 131.5v4.8M309.5 133.9h4.2M312.4 131.8v4.8M310.3 134.2h4.2M313.5 132.1v4.8M311.4 134.5h4.2M314.7 132.5v4.8M312.6 134.9h4.2M316.0 132.9v4.8M313.9 135.3h4.2M316.5 133.0v4.8M314.4 135.4h4.2M317.7 133.4v4.8M315.6 135.8h4.2M319.0 133.8v4.8M316.9 136.2h4.2M320.3 134.2v4.8M318.2 136.6h4.2M320.8 134.4v4.8M318.7 136.8h4.2M321.5 134.5v4.8M319.4 136.9h4.2M322.0 134.7v4.8M319.9 137.1h4.2M322.5 134.9v4.8M320.4 137.3h4.2M323.7 135.2v4.8M321.6 137.6h4.2M324.9 135.6v4.8M322.8 138.0h4.2M325.9 135.9v4.8M323.8 138.3h4.2M327.1 136.2v4.8M325.0 138.6h4.2M328.1 136.5v4.8M326.0 138.9h4.2M328.8 136.7v4.8M326.7 139.1h4.2M329.4 136.8v4.8M327.3 139.2h4.2M329.9 137.0v4.8M327.8 139.4h4.2M331.1 137.3v4.8M329.0 139.7h4.2M331.7 137.4v4.8M329.6 139.8h4.2M332.4 137.6v4.8M330.3 140.0h4.2M333.3 137.8v4.8M331.2 140.2h4.2M333.7 138.0v4.8M331.6 140.4h4.2M334.4 138.1v4.8M332.3 140.5h4.2M335.1 138.3v4.8M333.0 140.7h4.2M336.2 138.6v4.8M334.1 141.0h4.2M337.0 138.8v4.8M334.9 141.2h4.2M337.7 139.0v4.8M335.6 141.4h4.2M339.0 139.4v4.8M336.9 141.8h4.2M339.9 139.6v4.8M337.8 142.0h4.2M341.2 139.9v4.8M339.1 142.3h4.2M342.2 140.2v4.8M340.1 142.6h4.2M342.6 140.3v4.8M340.5 142.7h4.2M343.5 140.6v4.8M341.4 143.0h4.2M344.3 140.8v4.8M342.2 143.2h4.2M345.5 141.1v4.8M343.4 143.5h4.2M346.2 141.3v4.8M344.1 143.7h4.2M347.3 141.6v4.8M345.2 144.0h4.2M348.2 141.9v4.8M346.1 144.3h4.2M348.9 142.1v4.8M346.8 144.5h4.2M350.1 142.4v4.8M348.0 144.8h4.2M350.6 142.6v4.8M348.5 145.0h4.2M351.8 142.9v4.8M349.7 145.3h4.2M352.4 143.1v4.8M350.3 145.5h4.2M352.9 143.2v4.8M350.8 145.6h4.2M353.5 143.3v4.8M351.4 145.7h4.2M354.7 143.6v4.8M352.6 146.0h4.2M356.0 143.9v4.8M353.9 146.3h4.2M356.4 144.0v4.8M354.3 146.4h4.2M357.3 144.3v4.8M355.2 146.7h4.2M358.2 144.5v4.8M356.1 146.9h4.2M359.4 144.8v4.8M357.3 147.2h4.2M360.0 144.9v4.8M357.9 147.3h4.2M360.9 145.1v4.8M358.8 147.5h4.2M361.7 145.3v4.8M359.6 147.7h4.2M362.9 145.6v4.8M360.8 148.0h4.2M363.5 145.8v4.8M361.4 148.2h4.2M364.8 146.1v4.8M362.7 148.5h4.2M365.5 146.2v4.8M363.4 148.6h4.2M366.2 146.3v4.8M364.1 148.7h4.2M367.3 146.6v4.8M365.2 149.0h4.2M368.2 146.7v4.8M366.1 149.1h4.2M368.7 146.8v4.8M366.6 149.2h4.2M369.7 147.0v4.8M367.6 149.4h4.2M370.3 147.2v4.8M368.2 149.6h4.2M371.4 147.4v4.8M369.3 149.8h4.2M372.5 147.6v4.8M370.4 150.0h4.2M373.7 147.8v4.8M371.6 150.2h4.2M374.7 148.0v4.8M372.6 150.4h4.2M375.4 148.2v4.8M373.3 150.6h4.2M376.3 148.4v4.8M374.2 150.8h4.2M377.1 148.5v4.8M375.0 150.9h4.2M378.3 148.7v4.8M376.2 151.1h4.2M378.8 148.8v4.8M376.7 151.2h4.2M380.1 149.0v4.8M378.0 151.4h4.2M380.6 149.1v4.8M378.5 151.5h4.2M381.2 149.2v4.8M379.1 151.6h4.2M381.9 149.3v4.8M379.8 151.7h4.2M383.1 149.5v4.8M381.0 151.9h4.2M384.0 149.7v4.8M381.9 152.1h4.2M384.8 149.8v4.8M382.7 152.2h4.2M386.1 150.0v4.8M384.0 152.4h4.2M386.7 150.2v4.8M384.6 152.6h4.2M387.6 150.3v4.8M385.5 152.7h4.2M388.5 150.5v4.8M386.4 152.9h4.2M389.7 150.6v4.8M387.6 153.0h4.2M390.8 150.8v4.8M388.7 153.2h4.2M391.8 151.0v4.8M389.7 153.4h4.2M392.6 151.1v4.8M390.5 153.5h4.2M393.3 151.2v4.8M391.2 153.6h4.2M393.9 151.3v4.8M391.8 153.7h4.2M395.1 151.5v4.8M393.0 153.9h4.2M396.2 151.6v4.8M394.1 154.0h4.2M397.3 151.8v4.8M395.2 154.2h4.2M397.9 151.9v4.8M395.8 154.3h4.2M398.7 152.0v4.8M396.6 154.4h4.2M399.9 152.2v4.8M397.8 154.6h4.2M400.9 152.4v4.8M398.8 154.8h4.2M401.5 152.5v4.8M399.4 154.9h4.2M402.6 152.6v4.8M400.5 155.0h4.2M404.1 152.9v4.8M402.0 155.3h4.2M404.9 153.0v4.8M402.8 155.4h4.2M405.7 153.2v4.8M403.6 155.6h4.2M406.6 153.3v4.8M404.5 155.7h4.2M407.9 153.6v4.8M405.8 156.0h4.2M409.4 153.8v4.8M407.3 156.2h4.2M410.1 153.9v4.8M408.0 156.3h4.2M410.8 154.1v4.8M408.7 156.5h4.2M411.7 154.2v4.8M409.6 156.6h4.2M412.6 154.4v4.8M410.5 156.8h4.2M413.7 154.6v4.8M411.6 157.0h4.2M414.4 154.7v4.8M412.3 157.1h4.2M415.3 154.9v4.8M413.2 157.3h4.2M416.1 155.0v4.8M414.0 157.4h4.2M417.7 155.3v4.8M415.6 157.7h4.2M419.1 155.5v4.8M417.0 157.9h4.2M419.7 155.7v4.8M417.6 158.1h4.2M421.3 156.0v4.8M419.2 158.4h4.2M422.0 156.1v4.8M419.9 158.5h4.2M423.0 156.3v4.8M420.9 158.7h4.2M424.6 156.6v4.8M422.5 159.0h4.2M426.0 156.8v4.8M423.9 159.2h4.2M427.4 157.1v4.8M425.3 159.5h4.2M428.4 157.2v4.8M426.3 159.6h4.2M429.2 157.3v4.8M427.1 159.7h4.2M430.4 157.5v4.8M428.3 159.9h4.2M431.1 157.6v4.8M429.0 160.0h4.2M431.9 157.7v4.8M429.8 160.1h4.2M432.8 157.8v4.8M430.7 160.2h4.2M433.4 157.9v4.8M431.3 160.3h4.2M434.4 158.1v4.8M432.3 160.5h4.2M435.8 158.3v4.8M433.7 160.7h4.2M437.1 158.5v4.8M435.0 160.9h4.2M438.3 158.6v4.8M436.2 161.0h4.2M439.5 158.8v4.8M437.4 161.2h4.2M440.6 158.9v4.8M438.5 161.3h4.2M441.3 159.0v4.8M439.2 161.4h4.2M442.5 159.2v4.8M440.4 161.6h4.2M443.5 159.3v4.8M441.4 161.7h4.2M444.8 159.5v4.8M442.7 161.9h4.2M446.4 159.7v4.8M444.3 162.1h4.2M447.4 159.9v4.8M445.3 162.3h4.2M448.6 160.1v4.8M446.5 162.5h4.2M450.0 160.2v4.8M447.9 162.6h4.2M451.0 160.4v4.8M448.9 162.8h4.2M451.8 160.5v4.8M449.7 162.9h4.2M453.1 160.7v4.8M451.0 163.1h4.2M454.6 160.9v4.8M452.5 163.3h4.2M456.0 161.0v4.8M453.9 163.4h4.2M457.4 161.2v4.8M455.3 163.6h4.2M458.8 161.4v4.8M456.7 163.8h4.2M460.1 161.5v4.8M458.0 163.9h4.2M461.4 161.7v4.8M459.3 164.1h4.2M462.5 161.8v4.8M460.4 164.2h4.2M463.3 161.9v4.8M461.2 164.3h4.2M464.6 162.1v4.8M462.5 164.5h4.2M465.2 162.1v4.8M463.1 164.5h4.2M466.3 162.3v4.8M464.2 164.7h4.2M467.7 162.5v4.8M465.6 164.9h4.2M469.0 162.7v4.8M466.9 165.1h4.2M470.2 162.8v4.8M468.1 165.2h4.2M471.1 162.9v4.8M469.0 165.3h4.2M472.1 163.1v4.8M470.0 165.5h4.2M473.1 163.2v4.8M471.0 165.6h4.2M474.4 163.4v4.8M472.3 165.8h4.2M475.4 163.6v4.8M473.3 166.0h4.2M476.7 163.7v4.8M474.6 166.1h4.2M478.2 163.9v4.8M476.1 166.3h4.2M479.0 164.0v4.8M476.9 166.4h4.2M480.3 164.1v4.8M478.2 166.5h4.2M481.7 164.3v4.8M479.6 166.7h4.2M482.6 164.4v4.8M480.5 166.8h4.2M483.7 164.5v4.8M481.6 166.9h4.2M485.4 164.6v4.8M483.3 167.0h4.2M485.9 164.7v4.8M483.8 167.1h4.2M487.1 164.8v4.8M485.0 167.2h4.2M487.8 164.9v4.8M485.7 167.3h4.2M489.2 165.0v4.8M487.1 167.4h4.2M490.8 165.2v4.8M488.7 167.6h4.2M491.9 165.3v4.8M489.8 167.7h4.2M492.6 165.4v4.8M490.5 167.8h4.2M493.8 165.5v4.8M491.7 167.9h4.2M494.9 165.6v4.8M492.8 168.0h4.2M496.3 165.7v4.8M494.2 168.1h4.2M497.4 165.8v4.8M495.3 168.2h4.2M498.6 166.0v4.8M496.5 168.4h4.2M500.1 166.1v4.8M498.0 168.5h4.2M501.2 166.2v4.8M499.1 168.6h4.2M502.2 166.3v4.8M500.1 168.7h4.2M503.8 166.5v4.8M501.7 168.9h4.2M504.6 166.5v4.8M502.5 168.9h4.2M505.9 166.6v4.8M503.8 169.0h4.2M506.9 166.7v4.8M504.8 169.1h4.2M508.3 166.8v4.8M506.2 169.2h4.2M508.9 166.9v4.8M506.8 169.3h4.2M510.6 167.0v4.8M508.5 169.4h4.2" stroke-width="1"/>
<path d="M60.4 7.2H61.4V7.6H62.6V8.1H64.0V8.7H64.9V9.4H66.3V10.5H67.7V11.8H69.4V14.3H70.8V16.2H72.0V18.0H73.1V19.7H74.9V22.3H77.0V25.2H78.5V27.5H79.7V29.2H81.5V31.9H82.9V33.6H84.0V35.1H85.1V36.4H86.9V38.7H88.8V40.8H90.5V42.7H91.9V44.4H93.5V46.2H94.7V47.6H96.7V50.1H98.1V51.6H99.7V53.3H101.6V55.3H103.5V57.2H104.9V59.3H106.2V61.1H107.8V63.4H108.8V65.0H110.7V67.9H112.0V69.9H114.0V72.8H115.2V74.4H116.5V76.3H117.7V77.9H119.1V79.8H120.3V81.3H121.2V82.4H122.9V84.6H124.2V86.1H125.4V87.6H126.6V89.1H128.1V90.9H129.5V92.5H131.2V94.1H132.9V95.8H134.2V97.2H136.2V99.2H138.1V101.2H139.1V102.3H141.0V104.4H143.0V106.7H144.8V108.5H145.9V109.6H147.8V111.4H149.5V113.0H150.4V113.9H151.3V114.7H153.3V116.7H155.0V118.3H156.2V119.5H157.2V120.6H158.3V121.8H159.5V123.1H161.3V125.2H162.6V126.6H163.7V127.7H165.7V129.6H167.6V131.4H168.7V132.4H170.6V134.0H172.3V135.4H174.1V136.9H175.8V138.2H177.8V139.6H179.6V140.9H181.5V142.3H182.7V143.0H184.4V144.2H185.9V145.2H187.7V146.4H189.2V147.8H191.1V149.4H192.7V150.5H193.9V151.4H195.1V152.3H196.1V153.0H197.6V153.9H198.6V154.5H200.1V155.4H201.1V156.0H202.6V156.9H204.1V157.6H205.7V158.3H207.6V159.3H208.5V159.7H210.4V160.5H211.9V161.2H213.5V161.8H215.2V162.6H217.1V163.3H218.4V163.9H219.8V164.4H221.9V165.2H222.9V165.5H224.5V166.1H226.2V166.7H227.1V167.0H228.8V167.5H230.5V168.0H232.5V168.6H233.8V169.1H235.9V169.8H237.4V170.4H238.9V170.9H240.8V171.6H241.8V171.9H243.5V172.6H245.2V173.2H246.5V173.7H248.4V174.4H249.8V174.9H251.2V175.5H252.8V176.1H254.6V176.8H255.8V177.2H257.2V177.8H258.6V178.2H260.1V178.6H262.0V179.1H263.3V179.4H265.2V179.9H266.6V180.2H268.1V180.6H269.3V180.9H270.8V181.3H272.9V181.8H274.6V182.3H276.4V182.8H277.7V183.1H279.0V183.4H280.2V183.8H281.9V184.2H283.5V184.7H285.4V185.2H286.3V185.5H288.1V186.0H290.0V186.6H291.6V187.1H292.5V187.4H293.8V187.7H294.7V188.0H295.8V188.4H297.8V189.0H299.5V189.5H301.2V190.1H303.0V190.7H305.0V191.3H306.6V191.8H308.3V192.3H309.9V192.9H311.7V193.4H313.3V194.0H315.0V194.5H316.2V194.8H317.9V195.3H319.3V195.7H321.1V196.2H322.1V196.5H323.3V196.8H324.2V197.1H326.0V197.6H328.0V198.1H329.7V198.6H331.1V198.9H332.9V199.4H334.8V199.9H336.4V200.3H337.6V200.6H338.8V200.9H340.2V201.3H341.5V201.7H342.9V202.1H344.6V202.6H346.6V203.2H347.6V203.5H349.2V204.0H350.1V204.3H351.2V204.6H353.0V205.1H354.6V205.5H356.6V206.0H358.1V206.3H359.0V206.6H360.4V206.9H362.0V207.3H364.0V207.8H366.1V208.2H367.5V208.4H368.9V208.6H370.0V208.8H371.6V209.1H372.8V209.2H373.9V209.4H374.8V209.6H375.7V209.7H377.4V210.0H378.5V210.2H380.5V210.5H381.5V210.6H383.5V211.0H384.5V211.1H385.4V211.3H387.2V211.6H388.4V211.7H390.2V212.0H391.3V212.2H392.3V212.3H394.1V212.6H395.8V212.8H397.8V213.1H399.5V213.3H400.5V213.5H402.2V213.7H404.0V213.9H405.4V214.0H407.4V214.2H408.6V214.4H410.7V214.6H412.4V214.7H413.4V214.8H414.3V214.9H416.0V215.2H417.8V215.5H418.8V215.6H420.1V215.8H421.9V216.1H423.0V216.3H424.9V216.6H426.4V216.8H427.4V217.0H428.7V217.2H430.3V217.4H431.7V217.6H433.4V217.8H434.5V218.0H436.4V218.2H437.7V218.4H439.4V218.7H441.0V219.0H442.4V219.2H443.8V219.5H445.6V219.9H447.7V220.3H449.5V220.7H451.1V221.0H452.4V221.2H453.3V221.4H455.4V221.7H457.1V221.9H459.0V222.2H460.3V222.3H462.0V222.6H464.0V222.9H465.9V223.1H467.5V223.3H468.8V223.5H470.2V223.6H472.2V223.9H473.5V224.0H475.3V224.2H476.9V224.4H478.9V224.6H480.7V224.8H482.0V224.9H482.9V224.9H484.1V225.0H485.5V225.1H487.1V225.3H489.0V225.4H491.0V225.6H491.9V225.6H493.8V225.7H495.7V225.8H497.6V226.0H499.2V226.1H500.4V226.1H502.4V226.2H504.2V226.4H505.9V226.5H507.9V226.7H509.3V226.8H510.3V226.9H511.2V227.0"/>
<path d="M60.9 4.9v5.0M59.0 7.4h3.8M61.8 5.3v5.0M59.9 7.8h3.8M62.3 5.5v5.0M60.4 8.0h3.8M63.2 5.9v5.0M61.3 8.4h3.8M64.2 6.3v5.0M62.3 8.8h3.8M64.7 6.8v5.0M62.8 9.3h3.8M65.5 7.4v5.0M63.6 9.9h3.8M66.3 8.0v5.0M64.4 10.5h3.8M67.0 8.6v5.0M65.1 11.1h3.8M67.5 9.0v5.0M65.6 11.5h3.8M68.0 9.7v5.0M66.1 12.2h3.8M68.9 11.0v5.0M67.0 13.5h3.8M69.8 12.3v5.0M67.9 14.8h3.8M70.4 13.2v5.0M68.5 15.7h3.8M70.9 13.8v5.0M69.0 16.3h3.8M71.8 15.2v5.0M69.9 17.7h3.8M72.7 16.5v5.0M70.8 19.0h3.8M73.2 17.2v5.0M71.3 19.7h3.8M73.9 18.3v5.0M72.0 20.8h3.8M74.9 19.7v5.0M73.0 22.2h3.8M75.9 21.1v5.0M74.0 23.6h3.8M76.6 22.2v5.0M74.7 24.7h3.8M77.3 23.2v5.0M75.4 25.7h3.8M78.0 24.3v5.0M76.1 26.8h3.8M78.5 25.0v5.0M76.6 27.5h3.8M79.0 25.7v5.0M77.1 28.2h3.8M79.5 26.4v5.0M77.6 28.9h3.8M80.3 27.6v5.0M78.4 30.1h3.8M80.9 28.5v5.0M79.0 31.0h3.8M81.7 29.6v5.0M79.8 32.1h3.8M82.3 30.4v5.0M80.4 32.9h3.8M83.0 31.3v5.0M81.1 33.8h3.8M83.5 31.8v5.0M81.6 34.3h3.8M83.8 32.3v5.0M81.9 34.8h3.8M84.9 33.6v5.0M83.0 36.1h3.8M85.5 34.4v5.0M83.6 36.9h3.8M85.9 35.0v5.0M84.0 37.5h3.8M86.7 36.0v5.0M84.8 38.5h3.8M87.6 37.0v5.0M85.7 39.5h3.8M88.1 37.5v5.0M86.2 40.0h3.8M88.9 38.4v5.0M87.0 40.9h3.8M89.4 39.0v5.0M87.5 41.5h3.8M90.2 39.9v5.0M88.3 42.4h3.8M90.5 40.3v5.0M88.6 42.8h3.8M90.9 40.7v5.0M89.0 43.2h3.8M91.9 41.9v5.0M90.0 44.4h3.8M92.9 43.0v5.0M91.0 45.5h3.8M93.6 43.8v5.0M91.7 46.3h3.8M94.3 44.7v5.0M92.4 47.2h3.8M94.9 45.4v5.0M93.0 47.9h3.8M95.8 46.4v5.0M93.9 48.9h3.8M96.4 47.2v5.0M94.5 49.7h3.8M97.4 48.4v5.0M95.5 50.9h3.8M98.3 49.3v5.0M96.4 51.8h3.8M99.2 50.3v5.0M97.3 52.8h3.8M100.3 51.4v5.0M98.4 53.9h3.8M100.8 51.9v5.0M98.9 54.4h3.8M101.2 52.3v5.0M99.3 54.8h3.8M101.7 52.8v5.0M99.8 55.3h3.8M102.1 53.3v5.0M100.2 55.8h3.8M102.5 53.7v5.0M100.6 56.2h3.8M102.9 54.1v5.0M101.0 56.6h3.8M103.7 54.9v5.0M101.8 57.4h3.8M104.6 56.3v5.0M102.7 58.8h3.8M105.3 57.3v5.0M103.4 59.8h3.8M106.3 58.7v5.0M104.4 61.2h3.8M107.3 60.2v5.0M105.4 62.7h3.8M107.7 60.8v5.0M105.8 63.3h3.8M108.5 62.0v5.0M106.6 64.5h3.8M109.1 62.9v5.0M107.2 65.4h3.8M109.5 63.6v5.0M107.6 66.1h3.8M110.5 65.1v5.0M108.6 67.6h3.8M111.1 65.9v5.0M109.2 68.4h3.8M111.8 67.1v5.0M109.9 69.6h3.8M112.6 68.3v5.0M110.7 70.8h3.8M113.6 69.8v5.0M111.7 72.3h3.8M114.5 71.0v5.0M112.6 73.5h3.8M115.1 71.8v5.0M113.2 74.3h3.8M115.7 72.7v5.0M113.8 75.2h3.8M116.2 73.3v5.0M114.3 75.8h3.8M117.2 74.7v5.0M115.3 77.2h3.8M118.3 76.1v5.0M116.4 78.6h3.8M118.8 76.8v5.0M116.9 79.3h3.8M119.2 77.3v5.0M117.3 79.8h3.8M119.7 78.1v5.0M117.8 80.6h3.8M120.3 78.8v5.0M118.4 81.3h3.8M121.3 80.0v5.0M119.4 82.5h3.8M122.2 81.2v5.0M120.3 83.7h3.8M123.2 82.4v5.0M121.3 84.9h3.8M123.6 82.9v5.0M121.7 85.4h3.8M124.5 84.0v5.0M122.6 86.5h3.8M125.3 85.0v5.0M123.4 87.5h3.8M126.1 86.0v5.0M124.2 88.5h3.8M127.2 87.2v5.0M125.3 89.7h3.8M127.5 87.7v5.0M125.6 90.2h3.8M128.0 88.3v5.0M126.1 90.8h3.8M128.9 89.3v5.0M127.0 91.8h3.8M129.9 90.3v5.0M128.0 92.8h3.8M130.7 91.2v5.0M128.8 93.7h3.8M131.3 91.7v5.0M129.4 94.2h3.8M132.0 92.5v5.0M130.1 95.0h3.8M132.9 93.4v5.0M131.0 95.9h3.8M133.3 93.8v5.0M131.4 96.3h3.8M133.9 94.4v5.0M132.0 96.9h3.8M134.4 94.9v5.0M132.5 97.4h3.8M134.9 95.4v5.0M133.0 97.9h3.8M135.6 96.1v5.0M133.7 98.6h3.8M136.0 96.5v5.0M134.1 99.0h3.8M136.5 97.0v5.0M134.6 99.5h3.8M137.0 97.5v5.0M135.1 100.0h3.8M137.8 98.4v5.0M135.9 100.9h3.8M138.2 98.8v5.0M136.3 101.3h3.8M139.0 99.7v5.0M137.1 102.2h3.8M139.5 100.3v5.0M137.6 102.8h3.8M139.9 100.7v5.0M138.0 103.2h3.8M140.9 101.8v5.0M139.0 104.3h3.8M141.4 102.4v5.0M139.5 104.9h3.8M142.4 103.5v5.0M140.5 106.0h3.8M143.4 104.6v5.0M141.5 107.1h3.8M144.3 105.6v5.0M142.4 108.1h3.8M144.8 106.0v5.0M142.9 108.5h3.8M145.4 106.6v5.0M143.5 109.1h3.8M145.9 107.0v5.0M144.0 109.5h3.8M146.9 108.0v5.0M145.0 110.5h3.8M147.8 108.9v5.0M145.9 111.4h3.8M148.6 109.6v5.0M146.7 112.1h3.8M149.3 110.3v5.0M147.4 112.8h3.8M149.8 110.8v5.0M147.9 113.3h3.8M150.8 111.7v5.0M148.9 114.2h3.8M151.5 112.4v5.0M149.6 114.9h3.8M152.2 113.2v5.0M150.3 115.7h3.8M152.7 113.6v5.0M150.8 116.1h3.8M153.2 114.1v5.0M151.3 116.6h3.8M153.6 114.4v5.0M151.7 116.9h3.8M154.4 115.3v5.0M152.5 117.8h3.8M155.2 116.0v5.0M153.3 118.5h3.8M155.6 116.4v5.0M153.7 118.9h3.8M156.6 117.4v5.0M154.7 119.9h3.8M157.1 118.0v5.0M155.2 120.5h3.8M157.8 118.7v5.0M155.9 121.2h3.8M158.2 119.2v5.0M156.3 121.7h3.8M158.8 119.8v5.0M156.9 122.3h3.8M159.7 120.9v5.0M157.8 123.4h3.8M160.3 121.5v5.0M158.4 124.0h3.8M160.7 122.0v5.0M158.8 124.5h3.8M161.4 122.8v5.0M159.5 125.3h3.8M162.0 123.5v5.0M160.1 126.0h3.8M163.0 124.5v5.0M161.1 127.0h3.8M163.4 124.9v5.0M161.5 127.4h3.8M164.5 125.9v5.0M162.6 128.4h3.8M164.9 126.3v5.0M163.0 128.8h3.8M165.8 127.2v5.0M163.9 129.7h3.8M166.6 128.0v5.0M164.7 130.5h3.8M167.1 128.5v5.0M165.2 131.0h3.8M167.8 129.1v5.0M165.9 131.6h3.8M168.4 129.6v5.0M166.5 132.1h3.8M168.9 130.1v5.0M167.0 132.6h3.8M169.4 130.5v5.0M167.5 133.0h3.8M170.0 131.0v5.0M168.1 133.5h3.8M171.7 132.4v5.0M169.8 134.9h3.8M173.4 133.8v5.0M171.5 136.3h3.8M175.1 135.2v5.0M173.2 137.7h3.8M175.8 135.7v5.0M173.9 138.2h3.8M176.7 136.3v5.0M174.8 138.8h3.8M178.3 137.5v5.0M176.4 140.0h3.8M178.9 137.9v5.0M177.0 140.4h3.8M180.3 138.9v5.0M178.4 141.4h3.8M181.2 139.6v5.0M179.3 142.1h3.8M182.9 140.7v5.0M181.0 143.2h3.8M183.5 141.1v5.0M181.6 143.6h3.8M185.0 142.1v5.0M183.1 144.6h3.8M186.0 142.7v5.0M184.1 145.2h3.8M186.7 143.2v5.0M184.8 145.7h3.8M187.3 143.6v5.0M185.4 146.1h3.8M188.9 145.0v5.0M187.0 147.5h3.8M190.0 146.1v5.0M188.1 148.6h3.8M190.8 146.7v5.0M188.9 149.2h3.8M191.9 147.5v5.0M190.0 150.0h3.8M193.5 148.6v5.0M191.6 151.1h3.8M194.4 149.2v5.0M192.5 151.7h3.8M195.6 150.1v5.0M193.7 152.6h3.8M196.3 150.6v5.0M194.4 153.1h3.8M197.1 151.1v5.0M195.2 153.6h3.8M198.6 152.0v5.0M196.7 154.5h3.8M200.0 152.8v5.0M198.1 155.3h3.8M200.8 153.3v5.0M198.9 155.8h3.8M201.4 153.7v5.0M199.5 156.2h3.8M202.1 154.1v5.0M200.2 156.6h3.8M203.4 154.8v5.0M201.5 157.3h3.8M204.5 155.3v5.0M202.6 157.8h3.8M205.4 155.7v5.0M203.5 158.2h3.8M206.2 156.1v5.0M204.3 158.6h3.8M207.5 156.7v5.0M205.6 159.2h3.8M208.9 157.4v5.0M207.0 159.9h3.8M210.4 158.0v5.0M208.5 160.5h3.8M211.6 158.5v5.0M209.7 161.0h3.8M212.4 158.9v5.0M210.5 161.4h3.8M213.1 159.2v5.0M211.2 161.7h3.8M214.5 159.8v5.0M212.6 162.3h3.8M215.6 160.2v5.0M213.7 162.7h3.8M217.0 160.8v5.0M215.1 163.3h3.8M217.6 161.0v5.0M215.7 163.5h3.8M219.1 161.6v5.0M217.2 164.1h3.8M220.1 162.0v5.0M218.2 164.5h3.8M221.6 162.6v5.0M219.7 165.1h3.8M223.2 163.1v5.0M221.3 165.6h3.8M224.3 163.5v5.0M222.4 166.0h3.8M224.9 163.7v5.0M223.0 166.2h3.8M226.5 164.3v5.0M224.6 166.8h3.8M227.7 164.6v5.0M225.8 167.1h3.8M229.2 165.1v5.0M227.3 167.6h3.8M230.1 165.4v5.0M228.2 167.9h3.8M230.9 165.6v5.0M229.0 168.1h3.8M232.4 166.1v5.0M230.5 168.6h3.8M233.4 166.4v5.0M231.5 168.9h3.8M234.2 166.7v5.0M232.3 169.2h3.8M235.2 167.1v5.0M233.3 169.6h3.8M236.5 167.5v5.0M234.6 170.0h3.8M237.0 167.7v5.0M235.1 170.2h3.8M238.2 168.2v5.0M236.3 170.7h3.8M239.3 168.5v5.0M237.4 171.0h3.8M240.5 169.0v5.0M238.6 171.5h3.8M241.2 169.2v5.0M239.3 171.7h3.8M242.6 169.7v5.0M240.7 172.2h3.8M244.1 170.3v5.0M242.2 172.8h3.8M245.7 170.9v5.0M243.8 173.4h3.8M246.6 171.2v5.0M244.7 173.7h3.8M248.0 171.8v5.0M246.1 174.3h3.8M249.0 172.1v5.0M247.1 174.6h3.8M250.5 172.7v5.0M248.6 175.2h3.8M251.1 172.9v5.0M249.2 175.4h3.8M252.7 173.5v5.0M250.8 176.0h3.8M254.4 174.2v5.0M252.5 176.7h3.8M255.5 174.6v5.0M253.6 177.1h3.8M256.7 175.1v5.0M254.8 177.6h3.8M257.8 175.5v5.0M255.9 178.0h3.8M259.0 175.8v5.0M257.1 178.3h3.8M259.6 175.9v5.0M257.7 178.4h3.8M261.3 176.4v5.0M259.4 178.9h3.8M262.2 176.6v5.0M260.3 179.1h3.8M262.9 176.8v5.0M261.0 179.3h3.8M263.6 177.0v5.0M261.7 179.5h3.8M264.5 177.2v5.0M262.6 179.7h3.8M266.0 177.6v5.0M264.1 180.1h3.8M266.6 177.7v5.0M264.7 180.2h3.8M267.3 177.9v5.0M265.4 180.4h3.8M268.7 178.3v5.0M266.8 180.8h3.8M269.5 178.5v5.0M267.6 181.0h3.8M270.1 178.6v5.0M268.2 181.1h3.8M271.3 179.0v5.0M269.4 181.5h3.8M272.6 179.3v5.0M270.7 181.8h3.8M273.8 179.6v5.0M271.9 182.1h3.8M275.1 179.9v5.0M273.2 182.4h3.8M275.8 180.1v5.0M273.9 182.6h3.8M277.4 180.5v5.0M275.5 183.0h3.8M278.8 180.9v5.0M276.9 183.4h3.8M279.4 181.1v5.0M277.5 183.6h3.8M280.2 181.2v5.0M278.3 183.7h3.8M281.3 181.5v5.0M279.4 184.0h3.8M282.4 181.8v5.0M280.5 184.3h3.8M283.3 182.1v5.0M281.4 184.6h3.8M284.1 182.3v5.0M282.2 184.8h3.8M285.1 182.6v5.0M283.2 185.1h3.8M285.8 182.9v5.0M283.9 185.4h3.8M287.1 183.2v5.0M285.2 185.7h3.8M288.7 183.7v5.0M286.8 186.2h3.8M289.4 183.9v5.0M287.5 186.4h3.8M290.6 184.3v5.0M288.7 186.8h3.8M292.1 184.7v5.0M290.2 187.2h3.8M292.8 184.9v5.0M290.9 187.4h3.8M294.4 185.4v5.0M292.5 187.9h3.8M296.0 185.9v5.0M294.1 188.4h3.8M297.0 186.3v5.0M295.1 188.8h3.8M298.1 186.6v5.0M296.2 189.1h3.8M299.6 187.1v5.0M297.7 189.6h3.8M300.8 187.5v5.0M298.9 190.0h3.8M302.0 187.8v5.0M300.1 190.3h3.8M304.0 188.5v5.0M302.1 191.0h3.8M305.7 189.0v5.0M303.8 191.5h3.8M306.8 189.4v5.0M304.9 191.9h3.8M307.8 189.7v5.0M305.9 192.2h3.8M308.9 190.1v5.0M307.0 192.6h3.8M310.2 190.5v5.0M308.3 193.0h3.8M312.2 191.1v5.0M310.3 193.6h3.8M314.0 191.7v5.0M312.1 194.2h3.8M315.9 192.2v5.0M314.0 194.7h3.8M317.7 192.7v5.0M315.8 195.2h3.8M319.5 193.3v5.0M317.6 195.8h3.8M320.2 193.5v5.0M318.3 196.0h3.8M321.6 193.8v5.0M319.7 196.3h3.8M323.6 194.4v5.0M321.7 196.9h3.8M325.5 194.9v5.0M323.6 197.4h3.8M326.5 195.2v5.0M324.6 197.7h3.8M327.8 195.6v5.0M325.9 198.1h3.8M329.3 196.0v5.0M327.4 198.5h3.8M330.5 196.3v5.0M328.6 198.8h3.8M331.8 196.6v5.0M329.9 199.1h3.8M332.6 196.8v5.0M330.7 199.3h3.8M333.9 197.2v5.0M332.0 199.7h3.8M335.2 197.5v5.0M333.3 200.0h3.8M335.9 197.7v5.0M334.0 200.2h3.8M336.8 197.9v5.0M334.9 200.4h3.8M338.8 198.4v5.0M336.9 200.9h3.8M340.5 198.9v5.0M338.6 201.4h3.8M342.4 199.5v5.0M340.5 202.0h3.8M344.0 199.9v5.0M342.1 202.4h3.8M345.7 200.5v5.0M343.8 203.0h3.8M347.6 201.0v5.0M345.7 203.5h3.8M349.5 201.6v5.0M347.6 204.1h3.8M350.2 201.8v5.0M348.3 204.3h3.8M351.7 202.3v5.0M349.8 204.8h3.8M352.8 202.6v5.0M350.9 205.1h3.8M354.4 202.9v5.0M352.5 205.4h3.8M355.4 203.2v5.0M353.5 205.7h3.8M356.8 203.5v5.0M354.9 206.0h3.8M358.7 204.0v5.0M356.8 206.5h3.8M360.3 204.4v5.0M358.4 206.9h3.8M361.3 204.6v5.0M359.4 207.1h3.8M362.6 204.9v5.0M360.7 207.4h3.8M363.9 205.2v5.0M362.0 207.7h3.8M365.9 205.6v5.0M364.0 208.1h3.8M366.9 205.8v5.0M365.0 208.3h3.8M368.0 206.0v5.0M366.1 208.5h3.8M369.6 206.2v5.0M367.7 208.7h3.8M370.4 206.4v5.0M368.5 208.9h3.8M371.9 206.6v5.0M370.0 209.1h3.8M373.8 206.9v5.0M371.9 209.4h3.8M375.2 207.1v5.0M373.3 209.6h3.8M376.2 207.3v5.0M374.3 209.8h3.8M377.6 207.5v5.0M375.7 210.0h3.8M378.9 207.7v5.0M377.0 210.2h3.8M379.8 207.9v5.0M377.9 210.4h3.8M380.7 208.0v5.0M378.8 210.5h3.8M381.5 208.1v5.0M379.6 210.6h3.8M382.6 208.3v5.0M380.7 210.8h3.8M383.8 208.5v5.0M381.9 211.0h3.8M384.9 208.7v5.0M383.0 211.2h3.8M385.9 208.8v5.0M384.0 211.3h3.8M386.7 209.0v5.0M384.8 211.5h3.8M388.1 209.2v5.0M386.2 211.7h3.8M389.9 209.5v5.0M388.0 212.0h3.8M391.4 209.7v5.0M389.5 212.2h3.8M392.8 209.9v5.0M390.9 212.4h3.8M394.4 210.1v5.0M392.5 212.6h3.8M395.3 210.2v5.0M393.4 212.7h3.8M397.0 210.5v5.0M395.1 213.0h3.8M398.3 210.7v5.0M396.4 213.2h3.8M399.7 210.9v5.0M397.8 213.4h3.8M401.2 211.1v5.0M399.3 213.6h3.8M402.7 211.3v5.0M400.8 213.8h3.8M404.0 211.4v5.0M402.1 213.9h3.8M405.2 211.5v5.0M403.3 214.0h3.8M406.4 211.6v5.0M404.5 214.1h3.8M408.0 211.8v5.0M406.1 214.3h3.8M409.4 211.9v5.0M407.5 214.4h3.8M411.1 212.1v5.0M409.2 214.6h3.8M412.0 212.2v5.0M410.1 214.7h3.8M413.3 212.3v5.0M411.4 214.8h3.8M415.5 212.6v5.0M413.6 215.1h3.8M416.7 212.8v5.0M414.8 215.3h3.8M418.4 213.0v5.0M416.5 215.5h3.8M420.0 213.3v5.0M418.1 215.8h3.8M421.2 213.5v5.0M419.3 216.0h3.8M423.6 213.9v5.0M421.7 216.4h3.8M424.9 214.1v5.0M423.0 216.6h3.8M426.9 214.4v5.0M425.0 216.9h3.8M428.0 214.6v5.0M426.1 217.1h3.8M428.9 214.7v5.0M427.0 217.2h3.8M431.1 215.0v5.0M429.2 217.5h3.8M432.6 215.2v5.0M430.7 217.7h3.8M433.5 215.3v5.0M431.6 217.8h3.8M434.9 215.5v5.0M433.0 218.0h3.8M436.4 215.7v5.0M434.5 218.2h3.8M438.4 216.0v5.0M436.5 218.5h3.8M439.3 216.2v5.0M437.4 218.7h3.8M440.5 216.4v5.0M438.6 218.9h3.8M442.8 216.8v5.0M440.9 219.3h3.8M444.8 217.2v5.0M442.9 219.7h3.8M445.9 217.4v5.0M444.0 219.9h3.8M447.2 217.7v5.0M445.3 220.2h3.8M448.6 218.0v5.0M446.7 220.5h3.8M450.5 218.3v5.0M448.6 220.8h3.8M452.2 218.7v5.0M450.3 221.2h3.8M454.4 219.0v5.0M452.5 221.5h3.8M456.5 219.3v5.0M454.6 221.8h3.8M458.1 219.5v5.0M456.2 222.0h3.8M460.1 219.8v5.0M458.2 222.3h3.8M462.1 220.1v5.0M460.2 222.6h3.8M464.1 220.4v5.0M462.2 222.9h3.8M465.7 220.6v5.0M463.8 223.1h3.8M467.7 220.8v5.0M465.8 223.3h3.8M469.7 221.1v5.0M467.8 223.6h3.8M471.9 221.3v5.0M470.0 223.8h3.8M472.9 221.5v5.0M471.0 224.0h3.8M475.1 221.7v5.0M473.2 224.2h3.8M475.9 221.8v5.0M474.0 224.3h3.8M478.0 222.0v5.0M476.1 224.5h3.8M479.7 222.2v5.0M477.8 224.7h3.8M481.3 222.3v5.0M479.4 224.8h3.8M483.6 222.5v5.0M481.7 225.0h3.8M485.4 222.6v5.0M483.5 225.1h3.8M486.8 222.7v5.0M484.9 225.2h3.8M488.9 222.9v5.0M487.0 225.4h3.8M491.1 223.1v5.0M489.2 225.6h3.8M492.9 223.2v5.0M491.0 225.7h3.8M494.3 223.3v5.0M492.4 225.8h3.8M495.8 223.3v5.0M493.9 225.8h3.8M497.3 223.4v5.0M495.4 225.9h3.8M499.3 223.6v5.0M497.4 226.1h3.8M500.5 223.6v5.0M498.6 226.1h3.8M502.0 223.7v5.0M500.1 226.2h3.8M503.7 223.8v5.0M501.8 226.3h3.8M505.1 224.0v5.0M503.2 226.5h3.8M506.4 224.1v5.0M504.5 226.6h3.8M508.4 224.3v5.0M506.5 226.8h3.8M510.6 224.4v5.0M508.7 226.9h3.8" stroke-width="0.9"/>
<path d="M60.4 7.2H62.0V9.5H63.0V12.0H65.0V16.0H67.0V19.5H70.0V21.5H72.0V23.5H73.0V28.0H74.0V34.0H76.0V37.0H78.0V40.0H80.0V43.5H82.0V46.0H85.2V50.0H89.0V53.8H94.5V55.0H97.5V58.8H100.0V65.0H102.5V71.2H105.0V77.5H107.5V82.0H112.5V87.5H117.5V90.0H119.4V96.2H123.8V98.0H126.2V105.0H128.8V113.8H131.5V120.0H137.5V123.0H141.2V126.2H143.5V131.0H146.2V136.2H154.4V136.9H156.2V145.0H158.8V148.8H165.0V150.0H170.0V153.8H173.8V158.8H177.5V163.8H181.2V168.8H183.8V171.9H188.8V173.0H191.2V176.2H198.8V176.2H200.0V178.0H206.2V178.8H207.5V181.2H214.4V181.9H216.2V190.0H225.0V190.5H226.2V193.0H228.5V195.4H231.5V198.5H233.8V203.0H236.9V203.8H240.0V206.2H247.7V206.5H250.0V210.8H272.3V210.8H273.0V212.6H278.5V212.6H280.0V215.0H286.2V215.4H288.5V218.5H291.5V221.5H309.5V221.5H310.0V226.2H313.8V226.2H314.2V230.0H316.2V231.2H330.0V231.2H330.0V233.8H343.8V233.8H343.8V236.2H351.2V236.2H352.5V241.2H366.2V241.2H366.2V243.0H395.0V243.0H395.5V247.5H405.0V247.5H405.5V252.5H416.2V252.5H416.2V255.0H440.0V255.0H440.0V257.5H455.5V257.5H455.5V262.0H511.2V262.0" stroke-width="1.15"/>
<path d="M61.1 4.7v5.0M58.6 7.2h5.0M62.2 7.0v5.0M59.7 9.5h5.0M63.6 9.5v5.0M61.1 12.0h5.0M65.3 13.5v5.0M62.8 16.0h5.0M68.7 17.0v5.0M66.2 19.5h5.0M71.2 19.0v5.0M68.7 21.5h5.0M72.1 21.0v5.0M69.6 23.5h5.0M73.9 25.5v5.0M71.4 28.0h5.0M74.6 31.5v5.0M72.1 34.0h5.0M77.7 34.5v5.0M75.2 37.0h5.0M79.7 37.5v5.0M77.2 40.0h5.0M81.9 41.0v5.0M79.4 43.5h5.0M82.7 43.5v5.0M80.2 46.0h5.0M86.8 47.5v5.0M84.3 50.0h5.0M94.0 51.2v5.0M91.5 53.8h5.0M94.5 52.5v5.0M92.0 55.0h5.0M97.6 56.2v5.0M95.1 58.8h5.0M101.4 62.5v5.0M98.9 65.0h5.0M103.7 68.8v5.0M101.2 71.2h5.0M107.3 75.0v5.0M104.8 77.5h5.0M111.4 79.5v5.0M108.9 82.0h5.0M115.2 85.0v5.0M112.7 87.5h5.0M119.4 87.5v5.0M116.9 90.0h5.0M121.7 93.8v5.0M119.2 96.2h5.0M125.0 95.5v5.0M122.5 98.0h5.0M128.0 102.5v5.0M125.5 105.0h5.0M129.8 111.2v5.0M127.3 113.8h5.0M133.6 117.5v5.0M131.1 120.0h5.0M139.7 120.5v5.0M137.2 123.0h5.0M142.0 123.8v5.0M139.5 126.2h5.0M146.1 128.5v5.0M143.6 131.0h5.0M151.8 133.8v5.0M149.3 136.2h5.0M155.4 134.4v5.0M152.9 136.9h5.0M156.5 142.5v5.0M154.0 145.0h5.0M161.1 146.2v5.0M158.6 148.8h5.0M167.0 147.5v5.0M164.5 150.0h5.0M172.1 151.2v5.0M169.6 153.8h5.0M175.9 156.2v5.0M173.4 158.8h5.0M180.8 161.2v5.0M178.3 163.8h5.0M183.7 166.2v5.0M181.2 168.8h5.0M186.2 169.4v5.0M183.7 171.9h5.0M189.9 170.5v5.0M187.4 173.0h5.0M195.9 173.8v5.0M193.4 176.2h5.0M200.0 173.8v5.0M197.5 176.2h5.0M202.1 175.5v5.0M199.6 178.0h5.0M206.9 176.2v5.0M204.4 178.8h5.0M213.1 178.8v5.0M210.6 181.2h5.0M216.6 187.5v5.0M214.1 190.0h5.0M228.8 192.9v5.0M226.3 195.4h5.0M231.8 196.0v5.0M229.3 198.5h5.0M234.1 200.5v5.0M231.6 203.0h5.0M240.3 203.7v5.0M237.8 206.2h5.0M273.3 210.1v5.0M270.8 212.6h5.0M280.3 212.5v5.0M277.8 215.0h5.0M288.8 216.0v5.0M286.3 218.5h5.0M291.8 219.0v5.0M289.3 221.5h5.0M310.3 223.8v5.0M307.8 226.2h5.0M314.6 227.5v5.0M312.1 230.0h5.0M330.3 231.2v5.0M327.8 233.8h5.0M344.1 233.8v5.0M341.6 236.2h5.0M352.8 238.8v5.0M350.3 241.2h5.0M366.6 240.5v5.0M364.1 243.0h5.0M395.8 245.0v5.0M393.3 247.5h5.0M405.8 250.0v5.0M403.3 252.5h5.0M416.6 252.5v5.0M414.1 255.0h5.0M440.3 255.0v5.0M437.8 257.5h5.0M511.2 259.5v5.0M508.7 262.0h5.0M455.8 259.5v5.0M453.3 262.0h5.0M395.8 245.0v5.0M393.3 247.5h5.0M405.8 250.0v5.0M403.3 252.5h5.0" stroke-width="0.9"/>
</g>
<g class="sans" font-size="15.8" letter-spacing="-0.8"><text x="53.3" y="348.3" text-anchor="end" letter-spacing="-0.25">0</text><text x="53.3" y="281.6" text-anchor="end" letter-spacing="-0.25">20</text><text x="53.3" y="214.9" text-anchor="end" letter-spacing="-0.25">40</text><text x="53.3" y="148.1" text-anchor="end" letter-spacing="-0.25">60</text><text x="53.3" y="81.4" text-anchor="end" letter-spacing="-0.25">80</text><text x="52.4" y="14.4" text-anchor="end" letter-spacing="-1.6"><tspan stroke="none">1</tspan>00</text><text x="60.4" y="368.7" font-size="14.9" text-anchor="middle">0</text><text x="172.9" y="368.7" font-size="14.9" text-anchor="middle">6</text><text x="285.4" y="368.7" font-size="14.9" text-anchor="middle"><tspan stroke="none">1</tspan>2</text><text x="397.9" y="368.7" font-size="14.9" text-anchor="middle"><tspan stroke="none">1</tspan>8</text><text x="510.4" y="368.7" font-size="14.9" text-anchor="middle">24</text></g>
<g class="sans" font-size="16"><text x="185.6" y="396.6" textLength="52.2" lengthAdjust="spacing">Months</text><text x="245.0" y="396.6" textLength="33.5" lengthAdjust="spacing">from</text><text x="282.9" y="396.6" textLength="103.6" lengthAdjust="spacing">transplantation</text></g>
<text class="sans" font-size="15.6" letter-spacing="-0.15" word-spacing="2.3" transform="translate(13.2 175.6) rotate(-90)" text-anchor="middle">Overall Survival (%)</text>
<g class="serif" font-size="13.2" font-weight="bold" stroke="#000" stroke-width="0.1" stroke-linejoin="round">
<g transform="translate(457.0 115.2) rotate(6.3)"><text x="0" y="0" textLength="22.0" lengthAdjust="spacingAndGlyphs">Low</text><text x="28.2" y="0" textLength="21.0" lengthAdjust="spacingAndGlyphs">risk</text></g>
<g transform="translate(413.0 151.7) rotate(7.0)"><text x="0" y="0" textLength="68.0" lengthAdjust="spacingAndGlyphs">Intermediate</text><text x="73.0" y="0" textLength="21.4" lengthAdjust="spacingAndGlyphs">risk</text></g>
<g transform="translate(453.8 215.0) rotate(7.0)"><text x="0" y="0" textLength="24.8" lengthAdjust="spacingAndGlyphs">High</text><text x="31.5" y="0" textLength="20.4" lengthAdjust="spacingAndGlyphs">risk</text></g>
<g transform="translate(426.0 249.2) rotate(6.6)"><text x="0" y="0" textLength="22.4" lengthAdjust="spacingAndGlyphs">Very</text><text x="29.5" y="0" textLength="22.4" lengthAdjust="spacingAndGlyphs">high</text><text x="58.6" y="0" textLength="20.0" lengthAdjust="spacingAndGlyphs">risk</text></g>
</g>
<g class="serif" font-size="15.2" stroke="#000" stroke-width="0.3"><text x="443.1" y="332.8" font-size="16.2">p</text><text x="452.9" y="335" font-size="19.5" stroke-width="0.7">&lt;</text><text x="466.7" y="332.8" letter-spacing="-0.25">0.0001</text></g>
</g>
</svg>
</body></html>
